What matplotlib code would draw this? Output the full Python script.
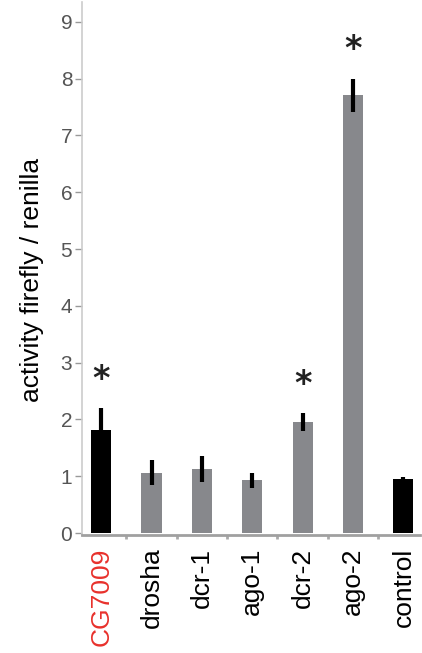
import numpy as np
import matplotlib.pyplot as plt
from matplotlib.ticker import FixedLocator

plt.rcParams['font.family'] = ['Liberation Sans', 'DejaVu Sans']

# data
labels = ['CG7009', 'drosha', 'dcr-1', 'ago-1', 'dcr-2', 'ago-2', 'control']
values = [1.81, 1.06, 1.13, 0.93, 1.95, 7.71, 0.95]
errors = [0.39, 0.22, 0.23, 0.13, 0.16, 0.29, 0.03]
significant = [True, False, False, False, True, True, False]
bar_colors = ['black', '#87888c', '#87888c', '#87888c', '#87888c', '#87888c', 'black']
label_colors = ['#e8312c', 'black', 'black', 'black', 'black', 'black', 'black']

fig = plt.figure(figsize=(4.22, 6.53), dpi=100)
ax = fig.add_axes([82 / 422, (653 - 535) / 653, (420 - 82) / 422, (535 - 2) / 653])

x = np.arange(len(labels))
ax.bar(x, values, width=0.4, color=bar_colors, zorder=2)
ax.errorbar(x, values, yerr=errors, fmt='none', ecolor='black',
            elinewidth=3, capsize=0, zorder=3)

# asterisks above significant bars
for xi, v, e, s in zip(x, values, errors, significant):
    if s:
        ax.text(xi, v + e + 0.22, '*', ha='center', va='bottom',
                fontsize=24, color='#222222', family='DejaVu Sans',
                fontweight='bold')

ax.set_xlim(-0.38, 6.33)
ax.set_ylim(-0.035, 9.35)
ax.set_yticks(range(10))
ax.tick_params(axis='y', colors='#999999', labelcolor='#555555',
               labelsize=15, length=5, width=1, pad=2)

ax.set_xticks(x)
ax.set_xticklabels(labels, rotation=90, fontsize=19)
for t, c in zip(ax.get_xticklabels(), label_colors):
    t.set_color(c)
ax.tick_params(axis='x', which='major', length=0, pad=9)
ax.xaxis.set_minor_locator(FixedLocator(x[:-1] + 0.5))
ax.tick_params(axis='x', which='minor', length=3, width=2, color='#aaaaaa')

for side in ['top', 'right']:
    ax.spines[side].set_visible(False)
ax.spines['left'].set_color('#cccccc')
ax.spines['bottom'].set_color('#a0a0a0')
ax.spines['bottom'].set_linewidth(2)
ax.spines['left'].set_linewidth(1.2)

fig.text(32 / 422, 1 - 280 / 653, 'activity firefly / renilla', rotation=90,
         ha='center', va='center', fontsize=19)

fig.savefig('out.png', dpi=100)
